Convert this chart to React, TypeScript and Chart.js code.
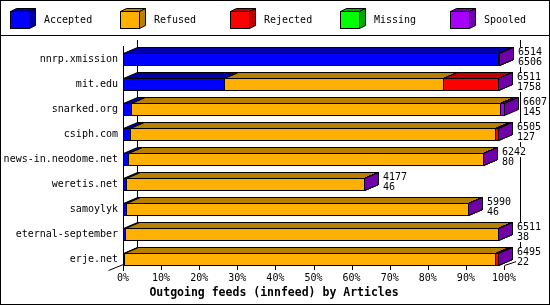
import React, { useEffect, useRef } from 'react';
import { Chart, registerables } from 'chart.js';

Chart.register(...registerables);

// ---- data ----
const categories = [
  'nnrp.xmission',
  'mit.edu',
  'snarked.org',
  'csiph.com',
  'news-in.neodome.net',
  'weretis.net',
  'samoylyk',
  'eternal-september',
  'erje.net',
];
const offered = [6514, 6511, 6607, 6505, 6242, 4177, 5990, 6511, 6495];
const accepted = [6506, 1758, 145, 127, 80, 46, 46, 38, 22];
const refused = [8, 3788, 6400, 6328, 6162, 4131, 5944, 6473, 6423];
const rejected = [0, 965, 0, 50, 0, 0, 0, 0, 50];
const missing = [0, 0, 0, 0, 0, 0, 0, 0, 0];
const spooled = [0, 0, 62, 0, 0, 0, 0, 0, 0];
const seriesNames = ['Accepted', 'Refused', 'Rejected', 'Missing', 'Spooled'];
const xTickStep = 10;
const chartTitle = 'Outgoing feeds (innfeed) by Articles';

// ---- styles ----
const frontColors = ['#0000ff', '#ffb000', '#ff0000', '#00ff00', '#a800ff'];
const darkColors = ['#0000a8', '#b88000', '#c00000', '#00a800', '#7000a8'];
const MONO = '"DejaVu Sans Mono", monospace';
const DX = 14;
const DY = 6;

const maxOffered = Math.max(...offered);
const toPct = (arr: number[]) => arr.map((v) => (v / maxOffered) * 100);
const seriesValues = [accepted, refused, rejected, missing, spooled];

function line(ctx: CanvasRenderingContext2D, pts: number[][]) {
  ctx.beginPath();
  ctx.moveTo(pts[0][0], pts[0][1]);
  for (let i = 1; i < pts.length; i++) ctx.lineTo(pts[i][0], pts[i][1]);
  ctx.stroke();
}

function poly(ctx: CanvasRenderingContext2D, pts: number[][], fill: string) {
  ctx.beginPath();
  ctx.moveTo(pts[0][0], pts[0][1]);
  for (let i = 1; i < pts.length; i++) ctx.lineTo(pts[i][0], pts[i][1]);
  ctx.closePath();
  ctx.fillStyle = fill;
  ctx.fill();
  ctx.stroke();
}

const threeD = {
  id: 'threeD',
  beforeDraw(chart: any) {
    const { ctx, width, height } = chart;
    ctx.save();
    ctx.fillStyle = '#ffffff';
    ctx.fillRect(0, 0, width, height);
    ctx.restore();
  },
  beforeDatasetsDraw(chart: any) {
    const { ctx, chartArea: a } = chart;
    const xs = chart.scales.x;
    ctx.save();
    ctx.strokeStyle = '#000';
    ctx.lineWidth = 1;
    const L = Math.round(a.left) + 0.5;
    const R = Math.round(a.right) + 0.5;
    const B = Math.round(a.bottom);
    const T = Math.round(a.top);
    // front left axis
    line(ctx, [[L, T - 1], [L, B - 1]]);
    // back walls
    line(ctx, [[L + DX, T - 7], [L + DX, B - 11]]);
    line(ctx, [[R + 16, T - 7], [R + 16, B - 11]]);
    // tick marks
    xs.ticks.forEach((t: any) => {
      const px = Math.round(xs.getPixelForValue(t.value)) + 0.5;
      line(ctx, [[px, B - 6], [px, B - 2]]);
    });
    // floor corner lines
    line(ctx, [[L - 15, B - 1.5], [L, B - 7.5]]);
    line(ctx, [[R, B - 6.5], [R + 15, B - 11.5], [R + 24, B - 11.5]]);
    ctx.restore();
  },
  afterDatasetsDraw(chart: any) {
    const { ctx } = chart;
    const metas = chart.data.datasets.map((_: any, i: number) => chart.getDatasetMeta(i));
    ctx.save();
    ctx.strokeStyle = '#000';
    ctx.lineWidth = 1;
    ctx.lineJoin = 'miter';
    for (let j = 0; j < categories.length; j++) {
      let endX = 0;
      let frontTop = 0;
      for (let i = 0; i < metas.length; i++) {
        const el = metas[i].data[j];
        const { x, base, y, height } = el.getProps(['x', 'base', 'y', 'height'], true);
        const x0 = Math.round(base);
        const x1 = Math.round(x);
        const y0 = Math.floor(y - height / 2);
        const y1 = y0 + Math.round(height);
        endX = x1;
        frontTop = y0;
        const c = frontColors[i];
        const d = darkColors[i];
        ctx.fillStyle = c;
        ctx.fillRect(x0, y0, x1 - x0 + 1, y1 - y0 + 1);
        ctx.strokeRect(x0 + 0.5, y0 + 0.5, x1 - x0, y1 - y0);
        const a0 = x0 + 0.5, a1 = x1 + 0.5, b0 = y0 + 0.5, b1 = y1 + 0.5;
        poly(ctx, [[a0, b0], [a0 + DX, b0 - DY], [a1 + DX, b0 - DY], [a1, b0]], d);
        poly(ctx, [[a1, b0], [a1 + DX, b0 - DY], [a1 + DX, b1 - DY], [a1, b1]], d);
      }
      // value labels
      ctx.font = '10px ' + MONO;
      ctx.textBaseline = 'alphabetic';
      ctx.textAlign = 'left';
      const lx = endX + 19;
      const labels = [String(offered[j]), String(accepted[j])];
      const bases = [frontTop + 2, frontTop + 12];
      labels.forEach((s, k) => {
        const w = ctx.measureText(s).width;
        ctx.fillStyle = '#fff';
        ctx.fillRect(lx - 1, bases[k] - 8, w + 2, 10);
        ctx.fillStyle = '#000';
        ctx.fillText(s, lx, bases[k]);
      });
    }
    ctx.restore();
  },
  afterDraw(chart: any) {
    const { ctx, width, height } = chart;
    ctx.save();
    ctx.strokeStyle = '#000';
    ctx.lineWidth = 1;
    // outer frame and legend separator
    ctx.strokeRect(0.5, 0.5, width - 1, height - 1);
    line(ctx, [[0, 35.5], [width, 35.5]]);
    // legend
    ctx.font = '10px ' + MONO;
    ctx.textBaseline = 'alphabetic';
    ctx.textAlign = 'left';
    chart.data.datasets.forEach((ds: any, i: number) => {
      const cx = 10 + i * 110;
      const fx0 = cx + 0.5, fx1 = cx + 19.5, fy0 = 11.5, fy1 = 28.5;
      const dx = 6, dy = 3;
      ctx.fillStyle = frontColors[i];
      ctx.fillRect(cx, 11, 20, 18);
      ctx.strokeRect(fx0, fy0, 19, 17);
      poly(ctx, [[fx0, fy0], [fx0 + dx, fy0 - dy], [fx1 + dx, fy0 - dy], [fx1, fy0]], darkColors[i]);
      poly(ctx, [[fx1, fy0], [fx1 + dx, fy0 - dy], [fx1 + dx, fy1 - dy], [fx1, fy1]], darkColors[i]);
      ctx.fillStyle = '#000';
      ctx.fillText(ds.label, cx + 34, 23);
    });
    // title
    ctx.font = 'bold 11.5px ' + MONO;
    ctx.textAlign = 'center';
    ctx.fillStyle = '#000';
    ctx.fillText(chartTitle, 274, 296);
    ctx.restore();
  },
};

export default function App() {
  const ref = useRef<HTMLCanvasElement | null>(null);
  useEffect(() => {
    if (!ref.current) return;
    const font = { family: MONO, size: 10 };
    const chart = new Chart(ref.current, {
      type: 'bar',
      data: {
        labels: categories,
        datasets: seriesNames.map((name, i) => ({
          label: name,
          data: toPct(seriesValues[i]),
          backgroundColor: frontColors[i],
          borderColor: '#000',
          borderWidth: 0,
          barThickness: 12,
        })),
      },
      options: {
        animation: false,
        responsive: false,
        devicePixelRatio: 1,
        indexAxis: 'y',
        layout: { padding: { top: 47, right: 46, left: 0, bottom: 0 } },
        plugins: {
          legend: { display: false },
          tooltip: { enabled: false },
          title: { display: false },
        },
        scales: {
          x: {
            stacked: true,
            min: 0,
            max: 100,
            ticks: {
              stepSize: xTickStep,
              callback: (v: any) => v + '%',
              color: '#000',
              font,
              padding: 0,
              maxRotation: 0,
              autoSkip: false,
            },
            grid: { display: false, drawTicks: false },
            border: { display: false },
            afterFit: (s: any) => {
              s.height = 33;
            },
          },
          y: {
            stacked: true,
            ticks: { color: '#000', font, padding: 5, autoSkip: false },
            grid: { display: false, drawTicks: false },
            border: { display: false },
            afterFit: (s: any) => {
              s.width = 123;
            },
          },
        },
      } as any,
      plugins: [threeD],
    });
    return () => chart.destroy();
  }, []);
  return (
    <div style={{ position: 'absolute', left: 0, top: 0, width: 550, height: 305 }}>
      <canvas ref={ref} width={550} height={305} style={{ display: 'block', width: 550, height: 305 }} />
    </div>
  );
}
